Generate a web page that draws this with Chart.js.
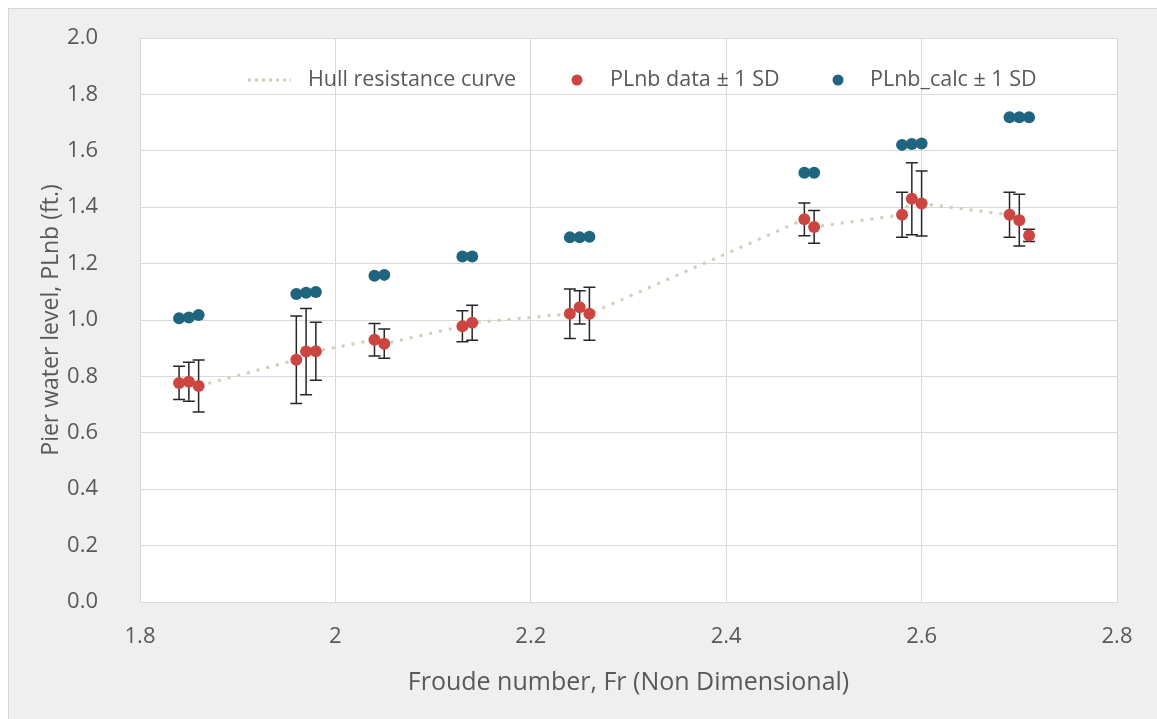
<!DOCTYPE html>
<html>
<head>
<meta charset="utf-8">
<script src="https://cdn.jsdelivr.net/npm/chart.js@4.4.1/dist/chart.umd.min.js"></script>
<style>
  html, body { margin: 0; padding: 0; background: #ffffff; }
  #frame {
    position: absolute; left: 8px; top: 8px; width: 1160px; height: 720px;
    background: #efefef; border-left: 1px solid #d6d6d6; border-top: 1px solid #d6d6d6;
  }
  #wrap { position: absolute; left: 0; top: 0; width: 1157px; height: 719px; }
</style>
</head>
<body>
<div id="frame"></div>
<div id="wrap"><canvas id="grafico"></canvas></div>
<script>
// Froude number of each run
const froude = [1.84, 1.85, 1.86, 1.96, 1.97, 1.98, 2.04, 2.05, 2.13, 2.14, 2.24, 2.25, 2.26,
                2.48, 2.49, 2.58, 2.59, 2.60, 2.69, 2.70, 2.71]
// measured pier water level and its standard deviation
const plnbData = [0.777, 0.781, 0.766, 0.859, 0.888, 0.889, 0.930, 0.916, 0.978, 0.990, 1.022, 1.045, 1.022,
                  1.357, 1.330, 1.373, 1.430, 1.413, 1.373, 1.354, 1.300]
const plnbSD = [0.059, 0.069, 0.092, 0.155, 0.153, 0.103, 0.058, 0.052, 0.055, 0.062, 0.088, 0.059, 0.094,
                0.058, 0.058, 0.080, 0.128, 0.115, 0.080, 0.092, 0.022]
// calculated pier water level
const plnbCalc = [1.006, 1.009, 1.018, 1.092, 1.097, 1.099, 1.157, 1.160, 1.225, 1.225, 1.293, 1.293, 1.295,
                  1.522, 1.522, 1.621, 1.624, 1.626, 1.719, 1.719, 1.719]
// hull resistance curve
const hullFr = [1.86, 1.96, 1.97, 1.98, 2.04, 2.05, 2.13, 2.14, 2.24, 2.25, 2.26, 2.48, 2.49, 2.58, 2.59, 2.60, 2.69, 2.70]
const hullLevel = [0.766, 0.859, 0.888, 0.889, 0.930, 0.916, 0.978, 0.990, 1.022, 1.045, 1.022, 1.357, 1.330,
                   1.373, 1.430, 1.413, 1.373, 1.354]

const xTicks = [1.8, 2.0, 2.2, 2.4, 2.6, 2.8]
const yTicks = [0, 0.2, 0.4, 0.6, 0.8, 1.0, 1.2, 1.4, 1.6, 1.8, 2.0]

const rojo = "#cd4541"
const azul = "#20657f"
const gris = "#595959"
const hullColor = "#d3ccb6"
const fuente = "'Open Sans', sans-serif"

const puntos = (xs, ys) => xs.map((x, i) => ({ x: x, y: ys[i] }))

// white plot area
const fondoArea = {
  id: "fondoArea",
  beforeDraw(chart) {
    const { ctx, chartArea: a } = chart
    ctx.save()
    ctx.fillStyle = "#ffffff"
    ctx.fillRect(a.left, a.top, a.right - a.left, a.bottom - a.top)
    ctx.restore()
  },
}

// error bars of the measured data, drawn just after the hull curve
const barrasError = {
  id: "barrasError",
  afterDatasetDraw(chart, args) {
    if (args.index !== 2) return
    const { ctx, scales } = chart
    const cap = 6
    ctx.save()
    ctx.strokeStyle = "#262626"
    ctx.lineWidth = 1.5
    froude.forEach((fr, i) => {
      const x = scales.x.getPixelForValue(fr)
      const y1 = scales.y.getPixelForValue(plnbData[i] + plnbSD[i])
      const y2 = scales.y.getPixelForValue(plnbData[i] - plnbSD[i])
      ctx.beginPath()
      ctx.moveTo(x, y1); ctx.lineTo(x, y2)
      ctx.moveTo(x - cap, y1); ctx.lineTo(x + cap, y1)
      ctx.moveTo(x - cap, y2); ctx.lineTo(x + cap, y2)
      ctx.stroke()
    })
    ctx.restore()
  },
}

// legend inside the plot area
const leyenda = {
  id: "leyenda",
  afterDraw(chart) {
    const ctx = chart.ctx
    const y = 80
    ctx.save()
    ctx.font = "21.5px " + fuente
    ctx.fillStyle = gris
    ctx.textBaseline = "middle"
    ctx.textAlign = "left"

    ctx.strokeStyle = hullColor
    ctx.lineWidth = 3
    ctx.setLineDash([3, 4])
    ctx.beginPath(); ctx.moveTo(248, y); ctx.lineTo(291, y); ctx.stroke()
    ctx.setLineDash([])
    ctx.fillText("Hull resistance curve", 308, y)

    ctx.fillStyle = rojo
    ctx.beginPath(); ctx.arc(577, y, 5.5, 0, Math.PI * 2); ctx.fill()
    ctx.fillStyle = gris
    ctx.fillText("PLnb data \u00b1 1 SD", 610, y)

    ctx.fillStyle = azul
    ctx.beginPath(); ctx.arc(838, y, 5.5, 0, Math.PI * 2); ctx.fill()
    ctx.fillStyle = gris
    ctx.fillText("PLnb_calc \u00b1 1 SD", 870, y)
    ctx.restore()
  },
}

new Chart(document.getElementById("grafico"), {
  type: "scatter",
  data: {
    datasets: [
      {
        label: "PLnb_calc \u00b1 1 SD",
        data: puntos(froude, plnbCalc),
        backgroundColor: azul,
        borderColor: azul,
        pointRadius: 6,
        borderWidth: 0,
      },
      {
        label: "PLnb data \u00b1 1 SD",
        data: puntos(froude, plnbData),
        backgroundColor: rojo,
        borderColor: rojo,
        pointRadius: 6,
        borderWidth: 0,
      },
      {
        label: "Hull resistance curve",
        data: puntos(hullFr, hullLevel),
        showLine: true,
        borderColor: hullColor,
        borderWidth: 3,
        borderDash: [3, 7],
        pointRadius: 0,
        fill: false,
      },
    ],
  },
  options: {
    responsive: true,
    maintainAspectRatio: false,
    animation: false,
    layout: { padding: { left: 0, top: 38, right: 40, bottom: 0 } },
    plugins: {
      legend: { display: false },
      tooltip: { enabled: false },
    },
    scales: {
      x: {
        type: "linear",
        min: 1.8,
        max: 2.8,
        afterBuildTicks: (scale) => { scale.ticks = xTicks.map((v) => ({ value: v })) },
        afterFit: (scale) => { scale.height = 117 },
        ticks: {
          padding: 22,
          color: gris,
          font: { family: fuente, size: 22 },
          callback: (v) => String(Math.round(v * 10) / 10),
        },
        grid: { color: "#d9d9d9", drawTicks: false },
        border: { color: "#d9d9d9" },
        title: {
          display: true,
          text: "Froude number, Fr (Non Dimensional)",
          color: gris,
          font: { family: fuente, size: 25 },
          padding: { top: 0, bottom: 21 },
        },
      },
      y: {
        min: 0,
        max: 2,
        afterBuildTicks: (scale) => { scale.ticks = yTicks.map((v) => ({ value: v })) },
        afterFit: (scale) => { scale.width = 140 },
        ticks: {
          padding: 0,
          color: gris,
          font: { family: fuente, size: 22 },
          callback: (v) => v.toFixed(1),
        },
        grid: { color: "#d9d9d9", drawTicks: true, tickLength: 42, tickColor: "rgba(0,0,0,0)" },
        border: { color: "#d9d9d9" },
        title: {
          display: true,
          text: "Pier water level, PLnb (ft.)",
          color: gris,
          font: { family: fuente, size: 23 },
          padding: { top: 38, bottom: 0 },
        },
      },
    },
  },
  plugins: [fondoArea, barrasError, leyenda],
})
</script>
</body>
</html>
